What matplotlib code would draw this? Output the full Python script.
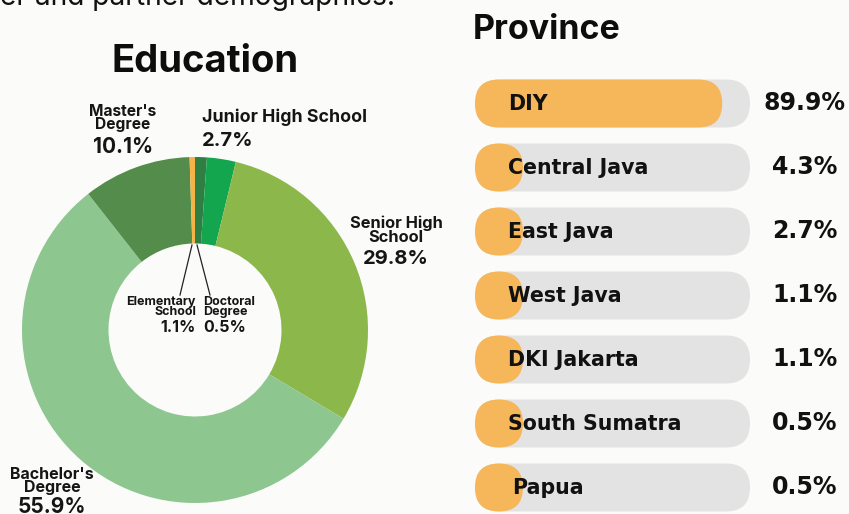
import numpy as np
import matplotlib.pyplot as plt
from matplotlib.patches import FancyBboxPatch

# education breakdown, clockwise from 12 o'clock
edu_labels = ["Elementary\nSchool", "Junior High School", "Senior High\nSchool",
              "Bachelor's\nDegree", "Master's\nDegree", "Doctoral\nDegree"]
edu_values = [1.1, 2.7, 29.8, 55.9, 10.1, 0.5]
edu_colors = ["#2f7f45", "#13a64f", "#8cb84b", "#8dc68f", "#548d4b", "#f5b447"]

# province breakdown
provinces = ["DIY", "Central Java", "East Java", "West Java",
             "DKI Jakarta", "South Sumatra", "Papua"]
province_pct = [89.9, 4.3, 2.7, 1.1, 1.1, 0.5, 0.5]

W, H = 849, 514
fig = plt.figure(figsize=(W / 100, H / 100), dpi=100)
fig.patch.set_facecolor("#fbfbfa")

LEFT_FONT = ["Inter", "DejaVu Sans"]
RIGHT_FONT = ["DejaVu Sans"]

# donut
cx, cy, R = 195, 330, 173
pad = 1.02
dax = fig.add_axes([(cx - R * pad) / W, (H - cy - R * pad) / H,
                    2 * R * pad / W, 2 * R * pad / H])
dax.pie(edu_values, colors=edu_colors, startangle=90, counterclock=False,
        radius=1, wedgeprops=dict(width=0.5, linewidth=0))
dax.set_xlim(-pad, pad)
dax.set_ylim(-pad, pad)
dax.axis("off")

# overlay in pixel coordinates for text and the province bars
ax = fig.add_axes([0, 0, 1, 1])
ax.set_xlim(0, W)
ax.set_ylim(H, 0)
ax.axis("off")

ax.text(395, 5, "Volunteer and partner demographics.", ha="right", va="baseline",
        fontsize=20.3, family=LEFT_FONT, color="#111111")
ax.text(205, 62, "Education", ha="center", va="center", fontsize=27.5,
        weight="bold", family=LEFT_FONT, color="#0d0d0d")

def pct(v):
    return f"{v:.1f}%"

name_kw = dict(weight="bold", family=LEFT_FONT, color="#151515", linespacing=0.88)

# Master's
ax.text(123, 118, edu_labels[4], ha="center", va="center", fontsize=11.2, **name_kw)
ax.text(123, 147, pct(edu_values[4]), ha="center", va="center", fontsize=15, **name_kw)
# Junior high
ax.text(202, 117, edu_labels[1], ha="left", va="center", fontsize=12.8, **name_kw)
ax.text(202, 141, pct(edu_values[1]), ha="left", va="center", fontsize=14.5, **name_kw)
# Senior high
ax.text(396, 230, edu_labels[2], ha="center", va="center", fontsize=11.8, **name_kw)
ax.text(396, 259, pct(edu_values[2]), ha="center", va="center", fontsize=14.5, **name_kw)
# Bachelor's
ax.text(52, 481, edu_labels[3], ha="center", va="center", fontsize=11.5, **name_kw)
ax.text(52, 507, pct(edu_values[3]), ha="center", va="center", fontsize=15, **name_kw)
# Elementary / Doctoral inside the hole
ax.text(196, 307, edu_labels[0], ha="right", va="center", fontsize=9,
        multialignment="right", **name_kw)
ax.text(196, 328, pct(edu_values[0]), ha="right", va="center", fontsize=11.5, **name_kw)
ax.text(203, 307, edu_labels[5], ha="left", va="center", fontsize=9,
        multialignment="left", **name_kw)
ax.text(203, 328, pct(edu_values[5]), ha="left", va="center", fontsize=11.5, **name_kw)
ax.plot([192, 180], [245, 295], color="#222222", lw=0.9)
ax.plot([197, 210], [245, 295], color="#222222", lw=0.9)

# Province
ax.text(473, 30, "Province", ha="left", va="center", fontsize=24.5,
        weight="bold", family=LEFT_FONT, color="#0d0d0d")

track_x0, track_x1 = 475, 750
bar_h = 48
row0, row_gap = 103.5, 64
track_w = track_x1 - track_x0
for i, (name, v) in enumerate(zip(provinces, province_pct)):
    yc = row0 + i * row_gap
    ax.add_patch(FancyBboxPatch((track_x0, yc - bar_h / 2), track_w, bar_h,
                                boxstyle=f"round,pad=0,rounding_size={bar_h / 2}",
                                fc="#e3e3e3", ec="none"))
    fill_w = max(track_w * v / 100, bar_h)
    ax.add_patch(FancyBboxPatch((track_x0, yc - bar_h / 2), fill_w, bar_h,
                                boxstyle=f"round,pad=0,rounding_size={bar_h / 2}",
                                fc="#f6b65a", ec="none"))
    ax.text(508 if name != "Papua" else 512, yc + 1, name, ha="left", va="center",
            fontsize=14.8, weight="bold", family=RIGHT_FONT, color="#111111")
    ax.text(805, yc, pct(v), ha="center", va="center", fontsize=17,
            weight="bold", family=RIGHT_FONT, color="#111111")

fig.savefig("out.png", dpi=100, facecolor=fig.get_facecolor())
